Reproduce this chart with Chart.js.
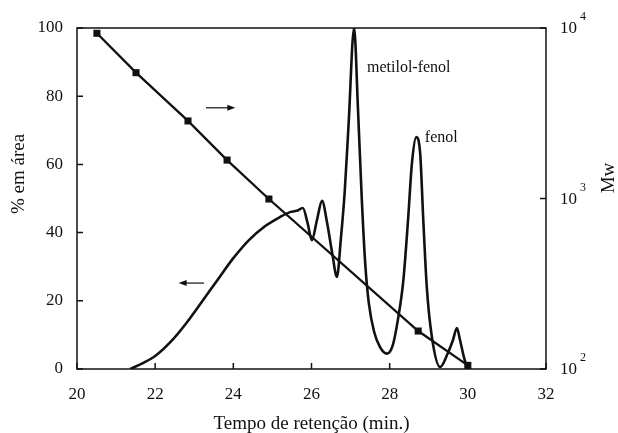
<!DOCTYPE html>
<html>
<head>
<meta charset="utf-8">
<script src="https://cdn.jsdelivr.net/npm/chart.js@4.4.1/dist/chart.umd.min.js"></script>
<style>
    html, body { margin: 0; padding: 0; background: #fff; }
    #wrap { width: 618px; height: 433px; position: relative; }
</style>
</head>
<body>
<div id="wrap"><canvas id="gpcChart"></canvas></div>
<script>
// chromatogram: % em área vs tempo de retenção (min)
const retTime = [21.36, 21.7, 22.0, 22.4, 22.8, 23.2, 23.6, 24.0, 24.4, 24.8,
    25.2, 25.45, 25.62, 25.78, 25.9, 26.01, 26.14, 26.27, 26.4, 26.53,
    26.65, 26.75, 26.85, 26.95, 27.09, 27.19, 27.29, 27.38, 27.47, 27.6,
    27.75, 27.93, 28.08, 28.21, 28.35, 28.47, 28.57, 28.68, 28.78, 28.86,
    28.95, 29.08, 29.29, 29.49, 29.62, 29.72, 29.8, 29.9, 29.98];
const areaPct = [0, 1.8, 3.8, 8, 13.5, 19.8, 26.2, 32.5, 37.8, 41.8,
    44.6, 46.0, 46.4, 47.2, 42.8, 37.8, 43.7, 49.3, 42.8, 34,
    27, 38, 52, 72, 100, 76, 49, 30, 19, 11,
    6.5, 4.5, 7, 14.4, 26, 43.7, 60.4, 68, 63.3, 43.7,
    24, 9.4, 0.6, 4.7, 8.5, 12, 8.5, 3.5, 0.3];

// calibration curve: Mw vs tempo de retenção
const calTime = [20.51, 21.51, 22.84, 23.84, 24.91, 28.73, 30.0];
const calMw = [9310, 5470, 2850, 1680, 993, 167, 105];

const timeTicks = [20, 22, 24, 26, 28, 30, 32];
const pctTicks = [0, 20, 40, 60, 80, 100];
const mwTicks = [100, 1000, 10000];

const SERIF = '"Liberation Serif", "Times New Roman", serif';
const INK = '#111';

// frame, inner tick marks, 10^n labels, Mw / % titles, arrows and peak names
const decorPlugin = {
    id: 'decor',
    afterDraw: function (chart) {
        const { ctx, chartArea: a } = chart;
        const x = chart.scales.x, y = chart.scales.y, y2 = chart.scales.y2;

        ctx.save();
        ctx.strokeStyle = INK;
        ctx.fillStyle = INK;
        ctx.lineWidth = 1.5;
        ctx.strokeRect(a.left, a.top, a.right - a.left, a.bottom - a.top);

        ctx.beginPath();
        timeTicks.forEach(v => {
            const px = x.getPixelForValue(v);
            ctx.moveTo(px, a.bottom);
            ctx.lineTo(px, a.bottom - 6);
        });
        pctTicks.forEach(v => {
            const py = y.getPixelForValue(v);
            ctx.moveTo(a.left, py);
            ctx.lineTo(a.left + 6, py);
        });
        mwTicks.forEach(v => {
            const py = y2.getPixelForValue(v);
            ctx.moveTo(a.right, py);
            ctx.lineTo(a.right - 6, py);
        });
        ctx.stroke();

        // right axis labels as 10 with a raised exponent
        ctx.textAlign = 'left';
        ctx.textBaseline = 'middle';
        mwTicks.forEach(v => {
            const py = y2.getPixelForValue(v);
            ctx.font = '17px ' + SERIF;
            ctx.fillText('10', a.right + 14, py + 1);
            const w = ctx.measureText('10').width;
            ctx.font = '12px ' + SERIF;
            ctx.fillText(String(Math.round(Math.log10(v))), a.right + 14 + w + 3, py - 11);
        });

        // rotated axis titles
        ctx.font = '19px ' + SERIF;
        ctx.textAlign = 'center';
        ctx.save();
        ctx.translate(19, 174);
        ctx.rotate(-Math.PI / 2);
        ctx.fillText('% em área', 0, 0);
        ctx.restore();
        ctx.save();
        ctx.translate(609, 178);
        ctx.rotate(-Math.PI / 2);
        ctx.fillText('Mw', 0, 0);
        ctx.restore();

        // arrows telling which axis each curve uses
        function arrow(x1, x2, yv) {
            const p1 = x.getPixelForValue(x1), p2 = x.getPixelForValue(x2), py = y.getPixelForValue(yv);
            const dir = Math.sign(p2 - p1);
            ctx.lineWidth = 1.2;
            ctx.beginPath();
            ctx.moveTo(p1, py);
            ctx.lineTo(p2 - dir * 5, py);
            ctx.stroke();
            ctx.beginPath();
            ctx.moveTo(p2, py);
            ctx.lineTo(p2 - dir * 8, py - 3);
            ctx.lineTo(p2 - dir * 8, py + 3);
            ctx.closePath();
            ctx.fill();
        }
        arrow(23.3, 24.05, 76.6);
        arrow(23.25, 22.6, 25.2);

        // peak names
        ctx.font = '16px ' + SERIF;
        ctx.textAlign = 'left';
        ctx.fillText('metilol-fenol', x.getPixelForValue(27.42), y.getPixelForValue(88.3));
        ctx.fillText('fenol', x.getPixelForValue(28.9), y.getPixelForValue(67.7));
        ctx.restore();
    }
};

const ctx = document.getElementById('gpcChart').getContext('2d');
new Chart(ctx, {
    type: 'line',
    data: {
        datasets: [
            {
                label: '% em área',
                data: retTime.map((t, i) => ({ x: t, y: areaPct[i] })),
                yAxisID: 'y',
                borderColor: INK,
                borderWidth: 2.6,
                pointRadius: 0,
                cubicInterpolationMode: 'monotone',
                fill: false
            },
            {
                label: 'Mw',
                data: calTime.map((t, i) => ({ x: t, y: calMw[i] })),
                yAxisID: 'y2',
                borderColor: INK,
                borderWidth: 2.3,
                pointStyle: 'rect',
                pointRadius: 5,
                pointBackgroundColor: INK,
                pointBorderWidth: 0,
                tension: 0,
                fill: false
            }
        ]
    },
    options: {
        responsive: true,
        maintainAspectRatio: false,
        animation: false,
        layout: { padding: { top: 28, left: 0, right: 0, bottom: 0 } },
        plugins: {
            legend: { display: false },
            tooltip: { enabled: false }
        },
        scales: {
            x: {
                type: 'linear',
                min: 20,
                max: 32,
                afterBuildTicks: s => { s.ticks = timeTicks.map(v => ({ value: v })); },
                afterFit: s => { s.height = 64; },
                grid: { display: false, drawTicks: false },
                border: { display: false },
                ticks: { color: INK, padding: 15, font: { family: SERIF, size: 17 } },
                title: {
                    display: true,
                    text: 'Tempo de retenção (min.)',
                    color: INK,
                    padding: 0,
                    font: { family: SERIF, size: 19, lineHeight: 0.9 }
                }
            },
            y: {
                position: 'left',
                min: 0,
                max: 100,
                afterBuildTicks: s => { s.ticks = pctTicks.map(v => ({ value: v })); },
                afterFit: s => { s.width = 77; },
                grid: { display: false, drawTicks: false },
                border: { display: false },
                ticks: { color: INK, padding: 14, font: { family: SERIF, size: 17 } }
            },
            y2: {
                type: 'logarithmic',
                position: 'right',
                min: 100,
                max: 10000,
                afterBuildTicks: s => { s.ticks = mwTicks.map(v => ({ value: v })); },
                afterFit: s => { s.width = 72; },
                grid: { display: false, drawTicks: false },
                border: { display: false },
                ticks: { display: false }
            }
        }
    },
    plugins: [decorPlugin]
});
</script>
</body>
</html>
